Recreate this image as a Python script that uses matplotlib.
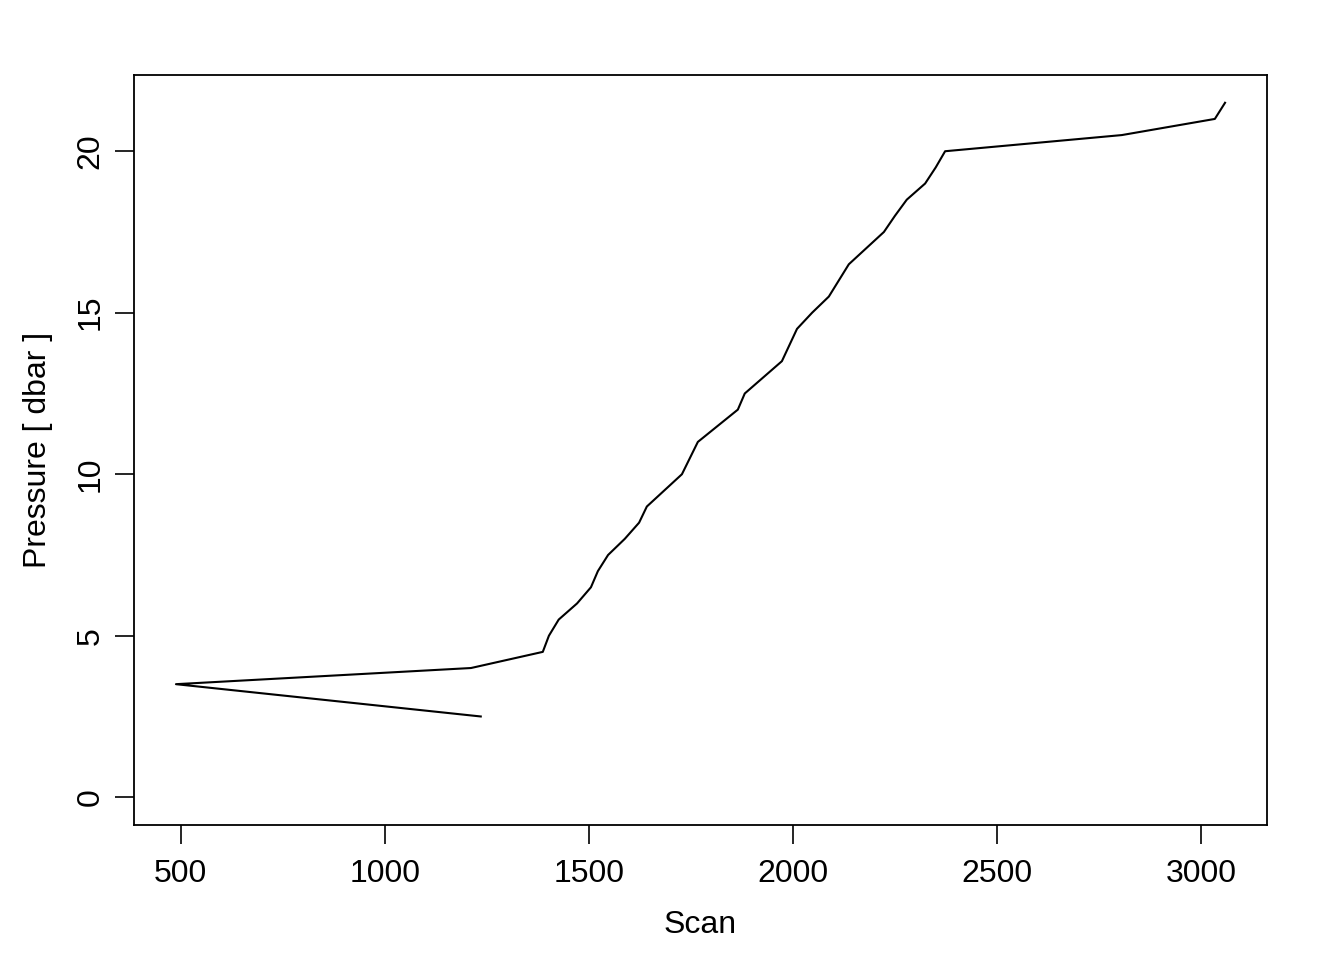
import matplotlib
matplotlib.use("Agg")
import matplotlib.pyplot as plt

# scan number vs pressure
scan = [1235, 488, 1211, 1387, 1402, 1426, 1471, 1505, 1522, 1547, 1588, 1623,
        1642, 1728, 1767, 1865, 1882, 1973, 2010, 2047, 2088, 2137, 2223, 2250,
        2279, 2324, 2350, 2373, 2806, 3034, 3059]
pressure = [2.5, 3.5, 4.0, 4.5, 5.0, 5.5, 6.0, 6.5, 7.0, 7.5, 8.0, 8.5,
            9.0, 10.0, 11.0, 12.0, 12.5, 13.5, 14.5, 15.0, 15.5, 16.5, 17.5, 18.0,
            18.5, 19.0, 19.5, 20.0, 20.5, 21.0, 21.5]
xticks = [500, 1000, 1500, 2000, 2500, 3000]
yticks = [0, 5, 10, 15, 20]

plt.rcParams['font.family'] = ['Liberation Sans', 'DejaVu Sans']

fig = plt.figure(figsize=(13.44, 9.6), dpi=100)
ax = fig.add_axes([134 / 1344, 135 / 960, (1267 - 134) / 1344, (825 - 75) / 960])
ax.plot(scan, pressure, color='black', lw=1.5)

# R style 4% padding, y range includes 0
xr = max(scan) - min(scan)
ax.set_xlim(min(scan) - 0.04 * xr, max(scan) + 0.04 * xr)
yr = max(pressure) - 0
ax.set_ylim(0 - 0.04 * yr, max(pressure) + 0.04 * yr)

ax.set_xticks(xticks)
ax.set_yticks(yticks)
ax.set_yticklabels([str(t) for t in yticks], rotation=90, va='center')
ax.tick_params(direction='out', length=13.5, width=1.2, labelsize=23)
ax.tick_params(axis='x', pad=11)
ax.tick_params(axis='y', pad=7)
for s in ax.spines.values():
    s.set_linewidth(1.3)

ax.set_xlabel('Scan', fontsize=23, labelpad=15)
ax.set_ylabel('Pressure [ dbar ]', fontsize=23, labelpad=16)

fig.savefig('out.png', dpi=100)
